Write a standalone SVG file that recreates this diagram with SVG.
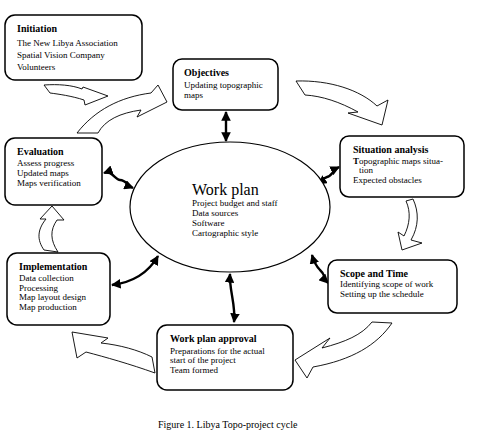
<svg xmlns="http://www.w3.org/2000/svg" width="486" height="436" viewBox="0 0 486 436">
<style>
.box{fill:#fff;stroke:#000;stroke-width:1.5}
.t{font-family:"Liberation Serif",serif;font-size:10px;font-weight:bold;fill:#000}
.b{font-family:"Liberation Serif",serif;font-size:9px;fill:#000}
.blk{fill:#fff;stroke:#000;stroke-width:0.9;stroke-linejoin:miter}
.dbl{fill:none;stroke:#000;stroke-width:2.4;marker-start:url(#ah);marker-end:url(#ah)}
</style>
<defs>
<marker id="ah" viewBox="0 0 10 10" refX="9" refY="5" markerWidth="4" markerHeight="4" orient="auto-start-reverse" markerUnits="strokeWidth">
<path d="M0,0 L10,5 L0,10 Z" fill="#000"/>
</marker>
</defs>
<rect width="486" height="436" fill="#fff"/>

<g id="flow-arrows">
<path class="blk" d="M44,85 C58,84 72,85 82,89 L83,87 L108,96 L85,105 L84,100 C72,96 58,94 50,93 Z"/>
<path class="blk" d="M77,133 C95,110 120,97 151,93 L158,85 L167,102 L137,117 L141,110 C120,113 105,120 98,133 Z"/>
<path class="blk" d="M296,81 C330,80 360,90 377,106 L388,100 L382,125 L348,113 L358,112 C340,102 322,96 305,95 Z"/>
<path class="blk" d="M406,201 L413,199 C419,212 419,226 411,240 L422,243 L402,250 L398,232 L404,236 C410,224 411,212 406,201 Z"/>
<path class="blk" d="M372,322 L392,323 C377,345 352,360 313,367 L307,378 L295,360 L330,338 L322,348 C345,342 362,335 372,322 Z"/>
<path class="blk" d="M152,357 C138,350 120,345 101,343 L108,338 L72,332 L77,358 L86,352 C105,357 130,364 155,373 Z"/>
<path class="blk" d="M44,250 C37,240 37,230 46,219 L40,219 L52,206 L64,220 L57,220 C50,230 50,240 58,252 Z"/>
</g>

<g id="connectors">
<path class="dbl" d="M226,112 L226,141"/>
<path class="dbl" d="M104,173 C112,170 115,180 120,180 C126,180 128,186 133,188"/>
<path class="dbl" d="M339,167 C333,170 332,176 327,177 C323,178 321,182 318,184"/>
<path class="dbl" d="M112,285 C135,282 150,270 158,256"/>
<path class="dbl" d="M312,255 C314,262 317,267 320,270 C325,274 324,279 328,283"/>
<path class="dbl" d="M230,274 C229,290 236,305 234,322"/>
</g>

<g id="workplan">
<ellipse cx="230" cy="207" rx="100" ry="65" fill="#fff" stroke="#000" stroke-width="1.2"/>
<text x="192" y="195" font-family="Liberation Serif,serif" font-size="16" fill="#000">Work plan</text>
<text class="b" x="192" y="206">Project budget and staff</text>
<text class="b" x="192" y="216">Data sources</text>
<text class="b" x="192" y="226">Software</text>
<text class="b" x="192" y="236">Cartographic style</text>
</g>

<g id="initiation">
<rect class="box" x="5" y="15" width="137" height="65" rx="10"/>
<text class="t" x="17" y="32">Initiation</text>
<text class="b" x="17" y="46">The New Libya Association</text>
<text class="b" x="17" y="58">Spatial Vision Company</text>
<text class="b" x="17" y="70">Volunteers</text>
</g>

<g id="objectives">
<rect class="box" x="173" y="59" width="105" height="51" rx="9"/>
<text class="t" x="184" y="76">Objectives</text>
<text class="b" x="184" y="88">Updating topographic</text>
<text class="b" x="184" y="98">maps</text>
</g>

<g id="situation">
<rect class="box" x="340" y="136" width="124" height="61" rx="9"/>
<text class="t" x="353" y="153">Situation analysis</text>
<text class="b" x="353" y="164"><tspan font-weight="bold">T</tspan>opographic maps situa-</text>
<text class="b" x="359" y="173">tion</text>
<text class="b" x="353" y="183">Expected obstacles</text>
</g>

<g id="evaluation">
<rect class="box" x="5" y="138" width="97" height="67" rx="10"/>
<text class="t" x="17" y="155">Evaluation</text>
<text class="b" x="17" y="166">Assess progress</text>
<text class="b" x="17" y="176">Updated maps</text>
<text class="b" x="17" y="186">Maps verification</text>
</g>

<g id="implementation">
<rect class="box" x="7" y="253" width="103" height="72" rx="10"/>
<text class="t" x="19" y="270">Implementation</text>
<text class="b" x="19" y="281">Data collection</text>
<text class="b" x="19" y="291">Processing</text>
<text class="b" x="19" y="300">Map layout design</text>
<text class="b" x="19" y="310">Map production</text>
</g>

<g id="scope">
<rect class="box" x="328" y="260" width="129" height="53" rx="9"/>
<text class="t" x="340" y="277">Scope and Time</text>
<text class="b" x="340" y="287">Identifying scope of work</text>
<text class="b" x="340" y="297">Setting up the schedule</text>
</g>

<g id="approval">
<rect class="box" x="157" y="325" width="136" height="65" rx="10"/>
<text class="t" x="170" y="342">Work plan approval</text>
<text class="b" x="170" y="354">Preparations for the actual</text>
<text class="b" x="170" y="363">start of the project</text>
<text class="b" x="170" y="373">Team formed</text>
</g>

<text x="158" y="428" font-family="Liberation Serif,serif" font-size="10" fill="#000">Figure 1. Libya Topo-project cycle</text>
</svg>
